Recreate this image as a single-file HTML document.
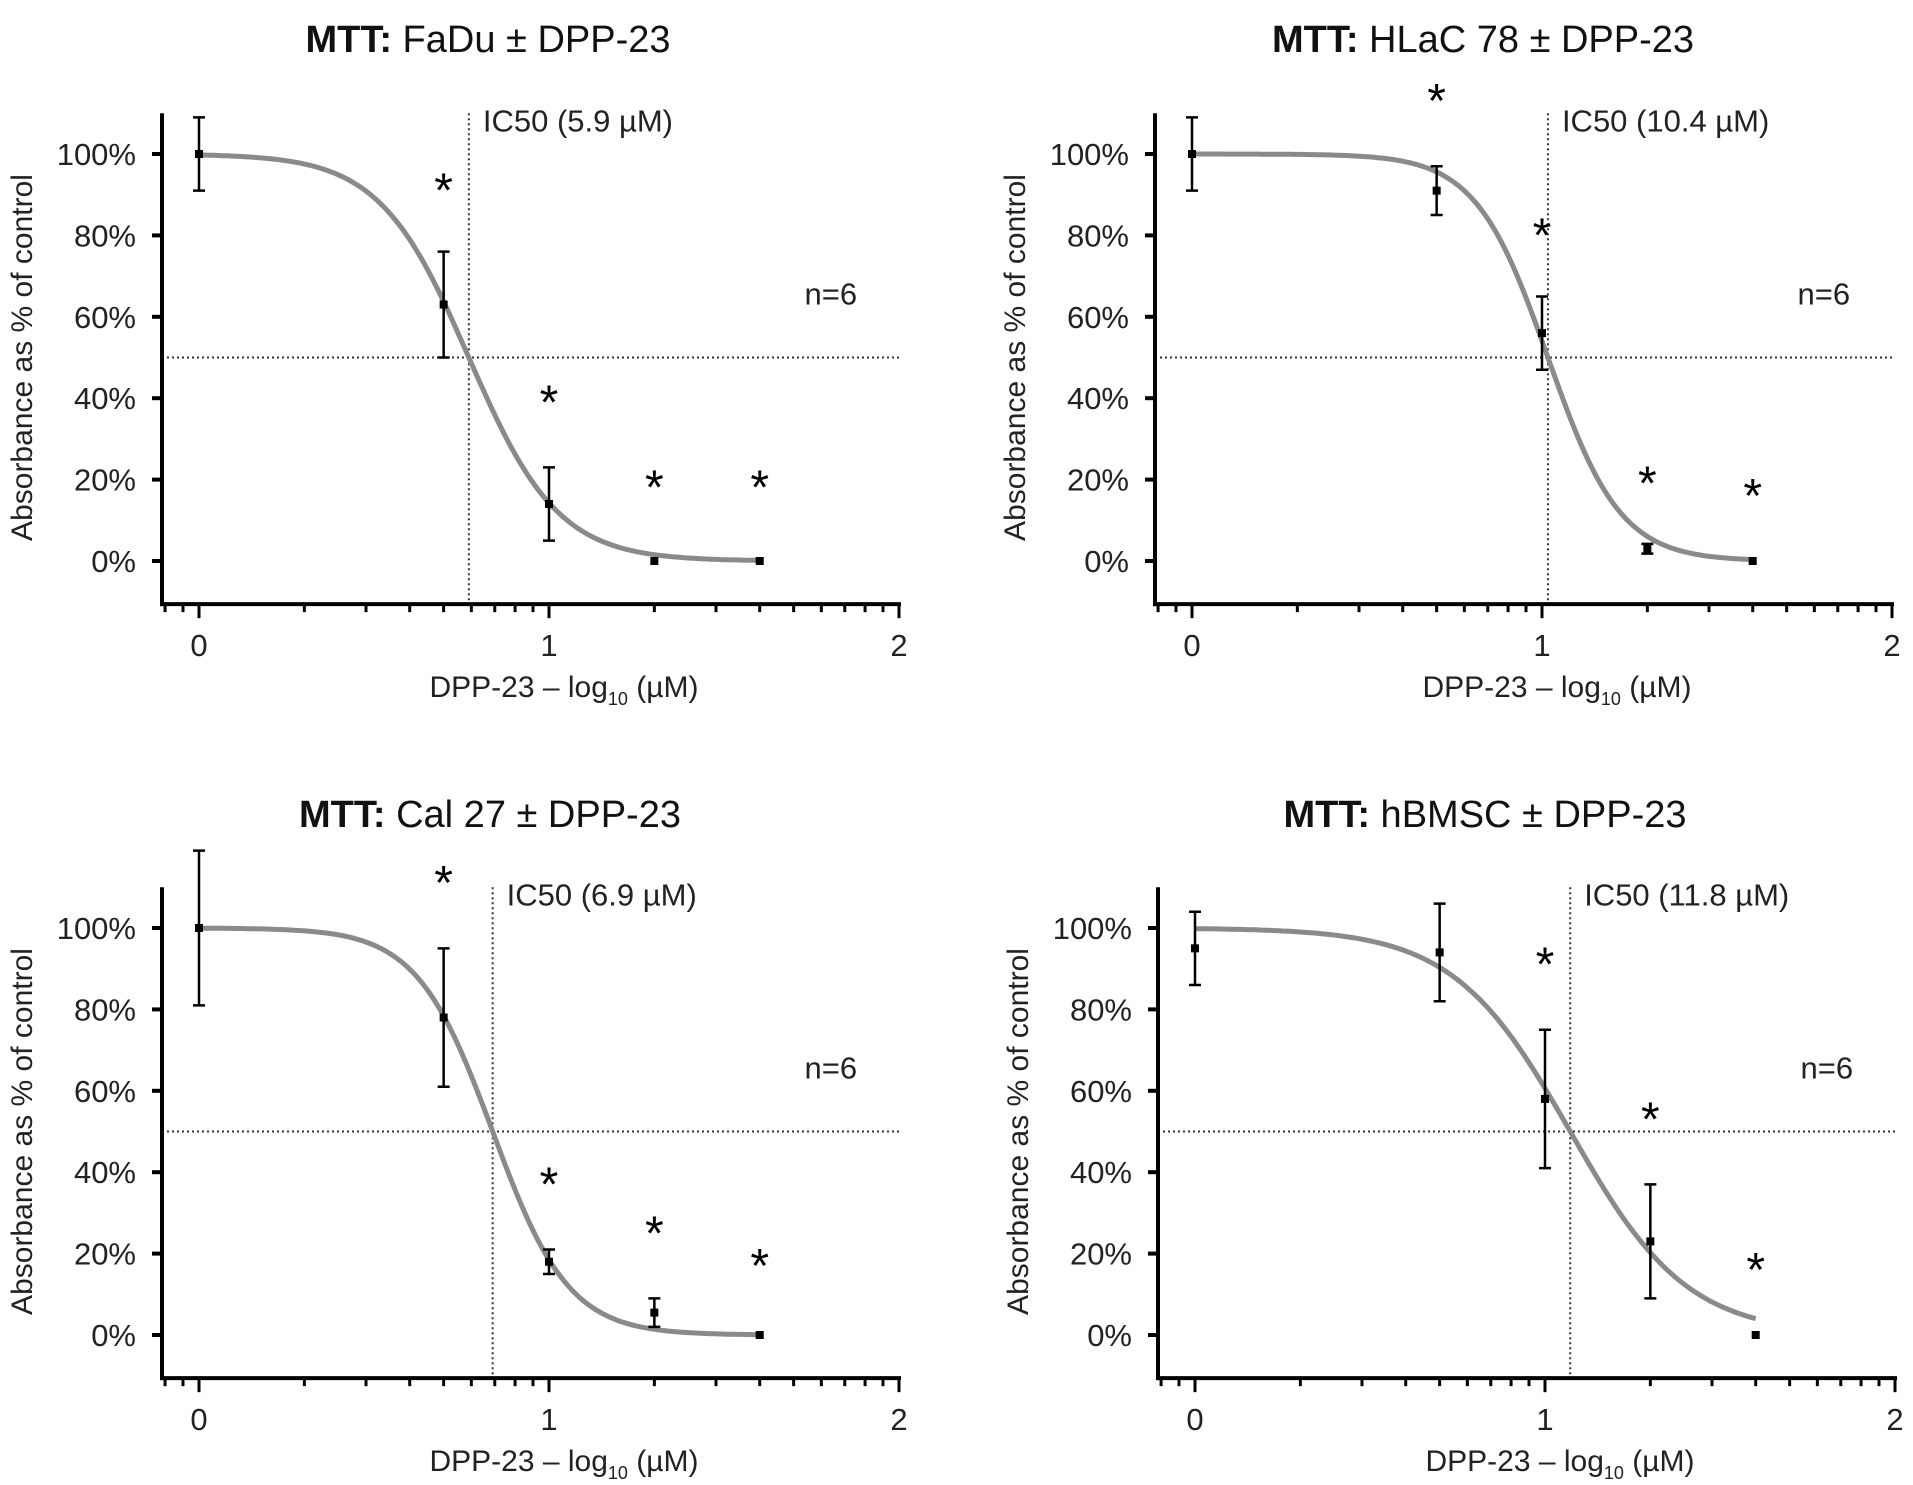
<!DOCTYPE html>
<html><head><meta charset="utf-8"><style>
html,body{margin:0;padding:0;background:#fff;}
svg{display:block;font-family:"Liberation Sans",Arial,sans-serif;}
</style></head><body>
<svg id="chart" width="1913" height="1485" viewBox="0 0 1913 1485"></svg>
<script>
// ---- data ----
const doses = [0, 0.699, 1, 1.301, 1.602];
const titlesCell = ["FaDu ± DPP-23", "HLaC 78 ± DPP-23", "Cal 27 ± DPP-23", "hBMSC ± DPP-23"];
const ic50Labels = ["IC50 (5.9 µM)", "IC50 (10.4 µM)", "IC50 (6.9 µM)", "IC50 (11.8 µM)"];
const ic50Log = [0.771, 1.017, 0.839, 1.072];
const hillSlope = [3.4, 4.2, 4.0, 2.6];
const meansFaDu = [100, 63, 14, 0, 0];
const errFaDu = [9, 13, 9, 0, 0];
const meansHLaC = [100, 91, 56, 3, 0];
const errHLaC = [9, 6, 9, 1.2, 0];
const meansCal = [100, 78, 18, 5.5, 0];
const errCal = [19, 17, 3, 3.5, 0];
const meansBMSC = [95, 94, 58, 23, 0];
const errBMSC = [9, 12, 17, 14, 0];
const starsFaDu = [[0.699, 91], [1, 39], [1.301, 18], [1.602, 18]];
const starsHLaC = [[0.699, 113], [1, 80], [1.301, 19], [1.602, 16]];
const starsCal = [[0.699, 111], [1, 37], [1.301, 25], [1.602, 17]];
const starsBMSC = [[1, 91], [1.301, 53], [1.602, 16]];
const yTicks = [0, 20, 40, 60, 80, 100];
const xTicks = [0, 1, 2];

const allMeans = [meansFaDu, meansHLaC, meansCal, meansBMSC];
const allErr = [errFaDu, errHLaC, errCal, errBMSC];
const allStars = [starsFaDu, starsHLaC, starsCal, starsBMSC];
const names = ["fadu", "hlac78", "cal27", "hbmsc"];

const panels = [
  {ax:162, x0:199, y0:561, tx:488, ty:38},
  {ax:1155, x0:1192, y0:561, tx:1483, ty:38},
  {ax:162, x0:199, y0:1335, tx:490, ty:813},
  {ax:1158, x0:1195, y0:1335, tx:1485, ty:813}
];
const PXU = 350, PYP = 4.07;

const svg = document.getElementById('chart');
const NS = 'http://www.w3.org/2000/svg';
function mk(tag, attrs, parent){
  const e = document.createElementNS(NS, tag);
  for (const k in attrs) e.setAttribute(k, attrs[k]);
  (parent||svg).appendChild(e);
  return e;
}

panels.forEach((p, i) => {
  const g = mk('g', {});
  
  
  const X = v => p.x0 + v * PXU;
  const Y = v => p.y0 - v * PYP;
  const top = Y(110), bot = Y(-10.6);

  const t = mk('text', {x: p.tx, y: p.ty + 14, 'font-size': 38, 'text-anchor':'middle', fill:'#111'}, g);
  
  
  const b = mk('tspan', {'font-weight':'bold'}, t); b.textContent = 'MTT:';
  const r = mk('tspan', {}, t); r.textContent = ' ' + titlesCell[i];

  const hl = mk('line', {x1:p.ax, x2:X(2), y1:Y(50), y2:Y(50), stroke:'#333', 'stroke-width':2, 'stroke-dasharray':'2,3'}, g);
  
  
  const vl = mk('line', {x1:X(ic50Log[i]), x2:X(ic50Log[i]), y1:top, y2:bot, stroke:'#333', 'stroke-width':2, 'stroke-dasharray':'2,3'}, g);
  
  
  const il = mk('text', {x:X(ic50Log[i]) + 14, y:Y(105.5), 'font-size':31, fill:'#222'}, g);
  il.textContent = ic50Labels[i];
  
  
  const nl = mk('text', {x:X(1.73), y:Y(63), 'font-size':31, fill:'#222'}, g);
  nl.textContent = 'n=6';
  
  

  const ya = mk('line', {x1:p.ax, x2:p.ax, y1:top, y2:bot+2, stroke:'#000', 'stroke-width':4}, g);
  
  
  const xa = mk('line', {x1:p.ax-2, x2:X(2)+2, y1:bot, y2:bot, stroke:'#000', 'stroke-width':4}, g);
  
  

  yTicks.forEach(v => {
    mk('line', {x1:p.ax-10, x2:p.ax, y1:Y(v), y2:Y(v), stroke:'#000', 'stroke-width':4}, g);
    const tl = mk('text', {x:p.ax-26, y:Y(v)+11, 'font-size':31, 'text-anchor':'end', fill:'#222'}, g);
    tl.textContent = v + '%';
    
    
  });
  for (let d = -1; d < 2; d++) {
    for (let m = 1; m <= 9; m++) {
      const v = d + Math.log10(m);
      if (X(v) < p.ax + 2 || v > 2) continue;
      const major = (m === 1);
      mk('line', {x1:X(v), x2:X(v), y1:bot, y2:bot + (major?14:8), stroke:'#000', 'stroke-width':3}, g);
    }
  }
  mk('line', {x1:X(2), x2:X(2), y1:bot, y2:bot+14, stroke:'#000', 'stroke-width':3}, g);
  xTicks.forEach(v => {
    const tl = mk('text', {x:X(v), y:bot+52, 'font-size':31, 'text-anchor':'middle', fill:'#222'}, g);
    tl.textContent = v;
    
    
  });

  const xt = mk('text', {x:X(1.1)-20, y:bot+93, 'font-size':30, 'text-anchor':'middle', fill:'#222'}, g);
  
  
  const a1 = mk('tspan', {}, xt); a1.textContent = 'DPP-23 – log';
  const a2 = mk('tspan', {'font-size':18, dy:8}, xt); a2.textContent = '10';
  const a3 = mk('tspan', {dy:-8}, xt); a3.textContent = ' (µM)';
  const yx = p.ax - 130, yy = Y(50);
  const yt = mk('text', {x:yx, y:yy, 'font-size':30, 'text-anchor':'middle', fill:'#222', transform:`rotate(-90 ${yx} ${yy})`}, g);
  yt.textContent = 'Absorbance as % of control';
  
  

  let d = '';
  for (let k = 0; k <= 160; k++) {
    const x = doses[doses.length-1] * k / 160;
    const y = 100 / (1 + Math.pow(10, (x - ic50Log[i]) * hillSlope[i]));
    d += (k ? 'L' : 'M') + X(x).toFixed(1) + ',' + Y(y).toFixed(1);
  }
  const c = mk('path', {d, fill:'none', stroke:'#8a8a8a', 'stroke-width':5}, g);
  
  

  allMeans[i].forEach((m, j) => {
    const e = allErr[i][j];
    if (e > 0) {
      const eb = mk('path', {d:`M${X(doses[j])},${Y(m+e)}V${Y(m-e)}M${X(doses[j])-6},${Y(m+e)}h12M${X(doses[j])-6},${Y(m-e)}h12`, stroke:'#000', 'stroke-width':2.5, fill:'none'}, g);
      
      
    }
    const pt = mk('rect', {x:X(doses[j])-4, y:Y(m)-4, width:8, height:8, fill:'#000'}, g);
    
    
  });
  allStars[i].forEach(s => {
    const st = mk('text', {x:X(s[0]), y:Y(s[1])+16, 'font-size':48, 'text-anchor':'middle', fill:'#000'}, g);
    st.textContent = '*';
    
    
  });
});
</script>
</body></html>
